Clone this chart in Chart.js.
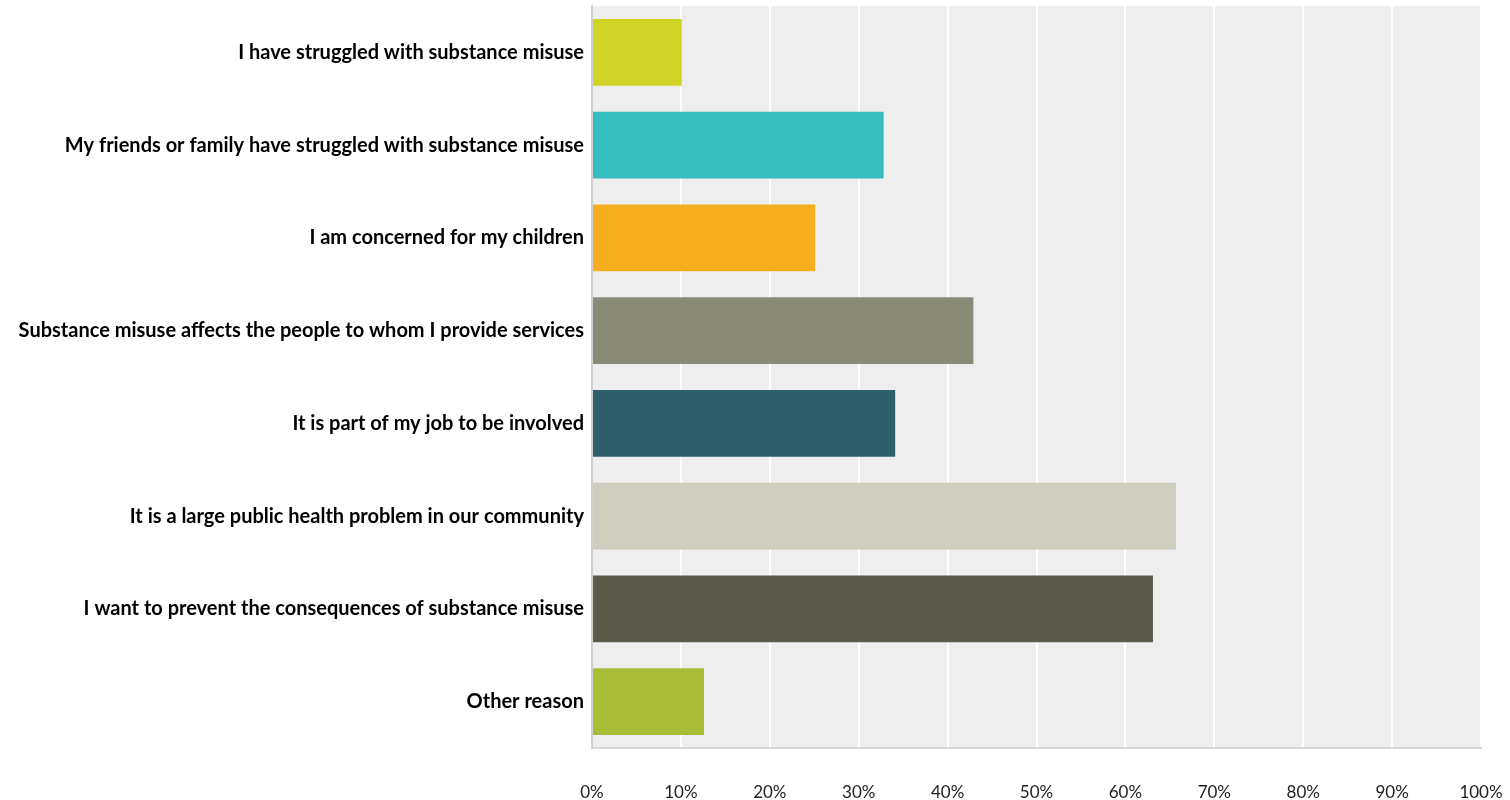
<!DOCTYPE html>
<html><head><meta charset="utf-8">
<script src="https://cdn.jsdelivr.net/npm/chart.js@4/dist/chart.umd.min.js"></script>
<style>html,body{margin:0;padding:0;background:#fff;}#wrap{width:1510px;height:800px;position:relative;}</style>
</head><body><div id="wrap"><canvas id="c"></canvas></div>
<script>
const categories = [
  "I have struggled with substance misuse",
  "My friends or family have struggled with substance misuse",
  "I am concerned for my children",
  "Substance misuse affects the people to whom I provide services",
  "It is part of my job to be involved",
  "It is a large public health problem in our community",
  "I want to prevent the consequences of substance misuse",
  "Other reason"
];
const values = [10.1, 32.8, 25.1, 42.9, 34.1, 65.7, 63.1, 12.6];
const barColors = ["#cfd426","#35bcbf","#f5ae1e","#8a8a78","#2e606c","#cfcdbe","#5c5b4b","#a9bc38"];
const tickValues = [0,10,20,30,40,50,60,70,80,90,100];

const bgPlugin = {
  id: 'bg',
  beforeDraw(chart){
    const {ctx, chartArea:a} = chart;
    ctx.save(); ctx.fillStyle = '#eeeeee';
    ctx.fillRect(a.left, a.top, a.right-a.left, a.bottom-a.top);
    ctx.restore();
  }
};
function zeroPad(s){ s.paddingLeft = 0; s.paddingRight = 0; s.paddingTop = 0; s.paddingBottom = 0; }

new Chart(document.getElementById('c'), {
  type: 'bar',
  data: { labels: categories, datasets: [{ data: values, backgroundColor: barColors, borderWidth: 0, barPercentage: 0.72, categoryPercentage: 1 }] },
  options: {
    indexAxis: 'y', responsive: true, maintainAspectRatio: false, animation: false,
    layout: { padding: { top: 6, right: 29, left: 0, bottom: 0 } },
    plugins: { legend: { display: false }, tooltip: { enabled: false } },
    scales: {
      x: {
        min: 0, max: 100,
        afterBuildTicks(s){ s.ticks = tickValues.map(v => ({value: v})); },
        afterFit(s){ s.height = 52; zeroPad(s); },
        grid: { color: '#ffffff', lineWidth: 2, drawTicks: false },
        border: { display: true, color: '#d8d8d8', width: 2 },
        ticks: { padding: 34, color: '#222', font: { family: 'Lato', size: 17 }, callback: v => v + '%' }
      },
      y: {
        afterFit(s){ s.width = 592; zeroPad(s); },
        grid: { display: false, drawTicks: false },
        border: { display: true, color: '#d0d0d0', width: 2 },
        ticks: { padding: 8, color: '#000', font: { family: 'Lato', size: 20, weight: 'bold' } }
      }
    }
  },
  plugins: [bgPlugin]
});
</script></body></html>
